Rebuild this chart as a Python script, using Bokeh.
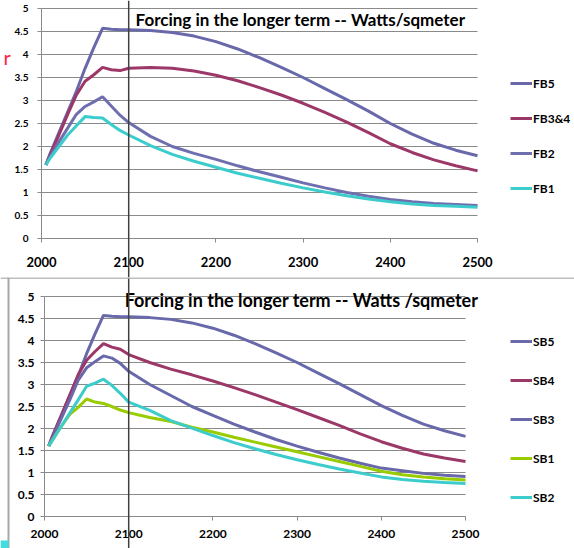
from bokeh.plotting import figure
from bokeh.layouts import column
from bokeh.models import (Legend, LegendItem, Label, Span, BoxAnnotation, FixedTicker,
                          Range1d)
from bokeh.embed import file_html
from bokeh.resources import INLINE

years = [2005, 2010, 2020, 2030, 2040, 2050, 2060, 2070, 2080, 2090, 2100, 2125, 2150,
         2175, 2200, 2225, 2250, 2275, 2300, 2325, 2350, 2375, 2400, 2425, 2450, 2475, 2500]

FB5 = [1.6, 1.85, 2.3, 2.75, 3.2, 3.7, 4.15, 4.57, 4.55, 4.54, 4.54, 4.52, 4.48, 4.4, 4.28,
       4.12, 3.93, 3.72, 3.5, 3.26, 3.02, 2.77, 2.5, 2.27, 2.07, 1.92, 1.8]
FB34 = [1.6, 1.82, 2.25, 2.7, 3.12, 3.42, 3.56, 3.72, 3.67, 3.65, 3.7, 3.72, 3.7, 3.64, 3.55,
        3.43, 3.28, 3.12, 2.94, 2.74, 2.53, 2.3, 2.06, 1.87, 1.71, 1.58, 1.47]
FB2 = [1.6, 1.78, 2.1, 2.4, 2.7, 2.87, 2.97, 3.08, 2.88, 2.68, 2.52, 2.22, 2.0, 1.85, 1.72,
       1.58, 1.45, 1.33, 1.21, 1.1, 1.0, 0.92, 0.85, 0.8, 0.76, 0.74, 0.72]
FB1 = [1.6, 1.75, 2.0, 2.25, 2.45, 2.65, 2.63, 2.62, 2.48, 2.35, 2.25, 2.02, 1.83, 1.68, 1.55,
       1.42, 1.31, 1.2, 1.1, 1.01, 0.93, 0.86, 0.8, 0.75, 0.72, 0.7, 0.68]

SB5 = [1.6, 1.85, 2.3, 2.75, 3.2, 3.7, 4.15, 4.57, 4.55, 4.54, 4.54, 4.52, 4.48, 4.4, 4.28,
       4.12, 3.93, 3.72, 3.5, 3.26, 3.02, 2.77, 2.52, 2.3, 2.1, 1.95, 1.82]
SB4 = [1.6, 1.85, 2.3, 2.76, 3.22, 3.55, 3.75, 3.93, 3.85, 3.8, 3.68, 3.5, 3.35, 3.22, 3.08,
       2.93, 2.77, 2.6, 2.43, 2.25, 2.07, 1.88, 1.7, 1.55, 1.42, 1.33, 1.25]
SB3 = [1.6, 1.81, 2.23, 2.65, 3.1, 3.38, 3.52, 3.65, 3.6, 3.48, 3.3, 3.0, 2.75, 2.5, 2.3,
       2.1, 1.92, 1.75, 1.6, 1.46, 1.33, 1.21, 1.1, 1.04, 0.98, 0.94, 0.91]
SB1 = [1.6, 1.75, 2.05, 2.32, 2.48, 2.67, 2.6, 2.57, 2.5, 2.42, 2.36, 2.25, 2.16, 2.03, 1.92,
       1.8, 1.69, 1.58, 1.47, 1.36, 1.25, 1.14, 1.03, 0.95, 0.9, 0.86, 0.83]
SB2 = [1.6, 1.75, 2.05, 2.35, 2.65, 2.96, 3.03, 3.12, 2.98, 2.8, 2.6, 2.41, 2.18, 2.01, 1.84,
       1.68, 1.54, 1.41, 1.29, 1.18, 1.08, 0.99, 0.9, 0.84, 0.8, 0.77, 0.75]

x_ticks = [2000, 2100, 2200, 2300, 2400, 2500]
y_ticks = [0, 0.5, 1, 1.5, 2, 2.5, 3, 3.5, 4, 4.5, 5]
y_tick_labels = ["0", "0.5", "1", "1.5", "2", "2.5", "3", "3.5", "4", "4.5", "5"]

top_series = [("FB5", FB5), ("FB3&4", FB34), ("FB2", FB2), ("FB1", FB1)]
bot_series = [("SB5", SB5), ("SB4", SB4), ("SB3", SB3), ("SB1", SB1), ("SB2", SB2)]

colors = {"FB5": "#6868aa", "FB3&4": "#9c3868", "FB2": "#6f6fb0", "FB1": "#3ccccc",
          "SB5": "#6868aa", "SB4": "#9c3868", "SB3": "#6868aa", "SB1": "#99cc00", "SB2": "#3ccccc"}

FONT = "Lato"
GRID = "#8a8a8a"
W = 574


def make_panel(h, px_left, px_right, px_top, px_bottom, series, title, title_size,
               ylab_size, xlab_size, legend_loc, legend_spacing, ylab_standoff, xlab_standoff):
    # pixel geometry of the plotting area: x 2000..2500 -> px_left..px_right,
    # y 0..5 -> px_bottom..px_top ; the frame covers the whole canvas
    sx = (px_right - px_left) / 500.0
    sy = (px_bottom - px_top) / 5.0
    xr = Range1d(2000 - px_left / sx, 2000 + (W - px_left) / sx)
    yr = Range1d(-(h - px_bottom) / sy, 5 + px_top / sy)
    p = figure(width=W, height=h, x_range=xr, y_range=yr,
               output_backend="svg", toolbar_location=None,
               min_border_left=0, min_border_right=0, min_border_top=0, min_border_bottom=0)
    p.outline_line_color = None
    p.background_fill_color = "white"
    p.border_fill_color = "white"
    p.xgrid.visible = False
    p.ygrid.visible = False

    # horizontal gridlines from the tick values
    p.segment(x0=[x_ticks[0]] * len(y_ticks), y0=y_ticks,
              x1=[x_ticks[-1]] * len(y_ticks), y1=y_ticks,
              line_color=GRID, line_width=1)

    p.yaxis.ticker = FixedTicker(ticks=y_ticks)
    p.yaxis.major_label_overrides = {t: s for t, s in zip(y_ticks, y_tick_labels)}
    p.xaxis.ticker = FixedTicker(ticks=x_ticks)
    p.yaxis.fixed_location = x_ticks[0]
    p.xaxis.fixed_location = y_ticks[0]
    p.yaxis.bounds = (y_ticks[0], y_ticks[-1])
    p.xaxis.bounds = (x_ticks[0], x_ticks[-1])
    for ax in (p.xaxis, p.yaxis):
        ax.axis_line_color = GRID
        ax.major_tick_line_color = GRID
        ax.minor_tick_line_color = None
        ax.major_tick_in = 0
        ax.major_tick_out = 4
        ax.major_label_text_font = FONT
        ax.major_label_text_font_style = "bold"
        ax.major_label_text_color = "black"
    p.yaxis.major_label_text_font_size = ylab_size
    p.xaxis.major_label_text_font_size = xlab_size
    p.yaxis.major_label_standoff = ylab_standoff
    p.xaxis.major_label_standoff = xlab_standoff

    items = []
    for name, vals in series:
        r = p.line(years, vals, line_color=colors[name], line_width=3)
        items.append(LegendItem(label=name, renderers=[r]))
    leg = Legend(items=items, location=legend_loc, glyph_width=22, glyph_height=20,
                 label_height=20, spacing=legend_spacing, padding=0, margin=0,
                 label_standoff=1, border_line_color=None, background_fill_alpha=0,
                 label_text_font=FONT, label_text_font_style="bold",
                 label_text_font_size="12px", label_text_color="black")
    p.add_layout(leg)
    p.add_layout(Label(x=2000 + (title[1] - px_left) / sx, y=5 - (title[2] - px_top) / sy,
                       text=title[0], text_align="center",
                       text_baseline="middle", text_font=FONT, text_font_style="bold",
                       text_font_size=title_size, text_color="black"))
    # dark marker line at 2100, through the whole panel
    p.add_layout(Span(location=2100, dimension="height", line_color="#404040",
                      line_width=1.5))
    return p, sx, sy


p1, sx1, sy1 = make_panel(277, 41, 477, 8, 238, top_series,
                          ("Forcing in the longer term -- Watts/sqmeter", 300, 19), "17px",
                          "10px", "13px", (510, 79), 15, 9, 14)
p2, sx2, sy2 = make_panel(271, 44, 465, 19, 239, bot_series,
                          ("Forcing in the longer term -- Watts /sqmeter", 301, 22), "18px",
                          "12px", "12px", (510, 41), 19, 6, 9)

# chart-area borders of the lower chart and stray bits of the screenshot
p2.add_layout(Span(location=5 + 18.5 / sy2, dimension="width", line_color="#a8a8a8",
                   line_width=1.5))
p2.add_layout(Span(location=2000 - 36 / sx2, dimension="height", line_color="#a8a8a8",
                   line_width=2))
p2.add_layout(BoxAnnotation(left=2000 - 44 / sx2, right=2000 - 36 / sx2,
                            bottom=-(271 - 239) / sy2, top=-(263 - 239) / sy2,
                            fill_color="#40dede", fill_alpha=1, line_color=None))
p1.add_layout(Label(x=2000 - 38 / sx1, y=5 - 48 / sy1, text="r", text_align="left",
                    text_baseline="middle", text_font=FONT, text_font_size="20px",
                    text_color="#ff1f44"))

layout = column(p1, p2, spacing=0)
open("out.html", "w").write(file_html(layout, INLINE))
